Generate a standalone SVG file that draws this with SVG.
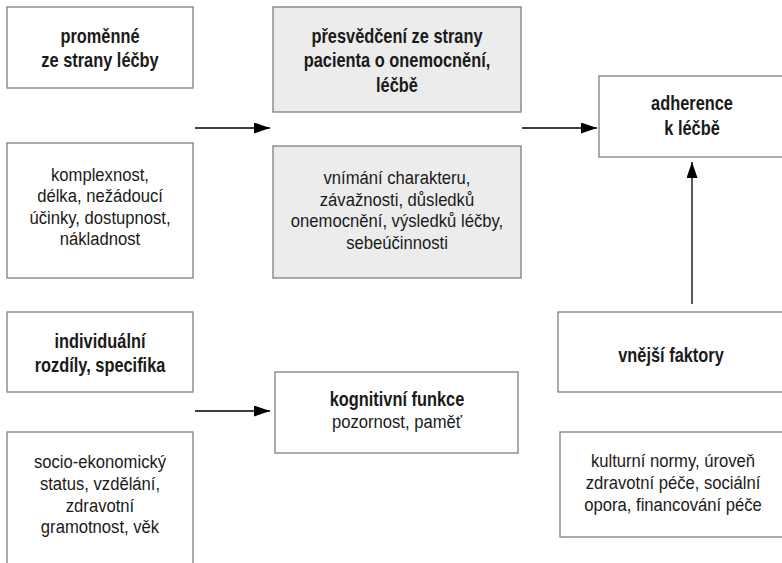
<svg xmlns="http://www.w3.org/2000/svg" width="782" height="563" viewBox="0 0 782 563">
<defs>
<style>
.box{fill:#ffffff;stroke:#7f7f7f;stroke-width:1.3}
.gray{fill:#ececec;stroke:#7f7f7f;stroke-width:1.3}
text{font-family:"Liberation Sans",Arial,sans-serif;fill:#1a1a1a;text-anchor:middle}
.b{font-weight:bold;font-size:19.5px}
.r{font-size:18.5px}
.conn line{stroke:#000;stroke-width:1.3;fill:none}
</style>
<marker id="arr" viewBox="0 0 16 11" refX="16" refY="5.5" markerWidth="16" markerHeight="11" markerUnits="userSpaceOnUse" orient="auto">
<path d="M0,0 L16,5.5 L0,11 Z" fill="#000"/>
</marker>
</defs>
<rect width="782" height="563" fill="#ffffff"/>

<g id="n-promenne">
<rect class="box" x="7" y="7" width="186" height="81"/>
<g transform="translate(100 0) scale(0.84 1)">
<text class="b" x="0" y="43">proměnné</text>
<text class="b" x="0" y="67">ze strany léčby</text>
</g>
</g>

<g id="n-komplexnost">
<rect class="box" x="7" y="143" width="186" height="135"/>
<g transform="translate(100 0) scale(0.9 1)">
<text class="r" x="0" y="181">komplexnost,</text>
<text class="r" x="0" y="202">délka, nežádoucí</text>
<text class="r" x="0" y="224">účinky, dostupnost,</text>
<text class="r" x="0" y="245">nákladnost</text>
</g>
</g>

<g id="n-presvedceni">
<rect class="gray" x="273" y="7" width="248" height="105"/>
<g transform="translate(397 0) scale(0.84 1)">
<text class="b" x="0" y="43">přesvědčení ze strany</text>
<text class="b" x="0" y="67">pacienta o onemocnění,</text>
<text class="b" x="0" y="92">léčbě</text>
</g>
</g>

<g id="n-vnimani">
<rect class="gray" x="273" y="146" width="248" height="132"/>
<g transform="translate(397 0) scale(0.9 1)">
<text class="r" x="0" y="184">vnímání charakteru,</text>
<text class="r" x="0" y="206">závažnosti, důsledků</text>
<text class="r" x="0" y="227">onemocnění, výsledků léčby,</text>
<text class="r" x="0" y="249">sebeúčinnosti</text>
</g>
</g>

<g id="n-adherence">
<rect class="box" x="599" y="76" width="186" height="81"/>
<g transform="translate(692 0) scale(0.84 1)">
<text class="b" x="0" y="110">adherence</text>
<text class="b" x="0" y="135">k léčbě</text>
</g>
</g>

<g id="n-individualni">
<rect class="box" x="7" y="312" width="186" height="80"/>
<g transform="translate(100 0) scale(0.84 1)">
<text class="b" x="0" y="348">individuální</text>
<text class="b" x="0" y="372">rozdíly, specifika</text>
</g>
</g>

<g id="n-socio">
<rect class="box" x="7" y="432" width="186" height="140"/>
<g transform="translate(100 0) scale(0.9 1)">
<text class="r" x="0" y="468">socio-ekonomický</text>
<text class="r" x="0" y="490">status, vzdělání,</text>
<text class="r" x="0" y="512">zdravotní</text>
<text class="r" x="0" y="533">gramotnost, věk</text>
</g>
</g>

<g id="n-kognitivni">
<rect class="box" x="275" y="372" width="243" height="81"/>
<g transform="translate(397 0) scale(0.84 1)">
<text class="b" x="0" y="406">kognitivní funkce</text>
</g>
<g transform="translate(397 0) scale(0.9 1)">
<text class="r" x="0" y="428">pozornost, paměť</text>
</g>
</g>

<g id="n-vnejsi">
<rect class="box" x="558" y="312" width="226" height="80"/>
<g transform="translate(671 0) scale(0.84 1)">
<text class="b" x="0" y="362">vnější faktory</text>
</g>
</g>

<g id="n-kulturni">
<rect class="box" x="560" y="432" width="226" height="105"/>
<g transform="translate(673 0) scale(0.9 1)">
<text class="r" x="0" y="467">kulturní normy, úroveň</text>
<text class="r" x="0" y="489">zdravotní péče, sociální</text>
<text class="r" x="0" y="511">opora, financování péče</text>
</g>
</g>

<g id="connectors" class="conn">
<line x1="195" y1="128" x2="270" y2="128" marker-end="url(#arr)"/>
<line x1="522" y1="128" x2="597" y2="128" marker-end="url(#arr)"/>
<line x1="195" y1="411" x2="270" y2="411" marker-end="url(#arr)"/>
<line x1="692" y1="304" x2="692" y2="162" marker-end="url(#arr)"/>
</g>
</svg>
